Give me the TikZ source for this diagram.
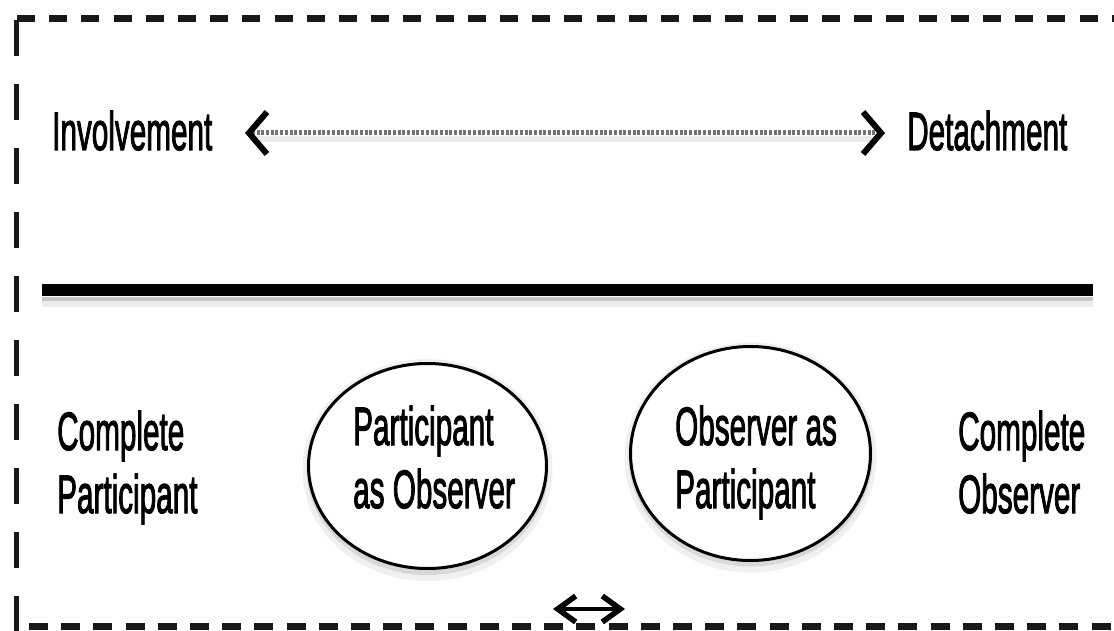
\documentclass[tikz,border=0pt]{standalone}
\usepackage{fontspec}
\setmainfont{Liberation Sans}
\newfontfamily\labfont{Liberation Sans}[FakeBold=2.4]
\usepackage{graphicx}
\usetikzlibrary{arrows.meta,shapes.geometric}
% condensed, left-aligned label text (first line sets the baseline)
\newcommand\narrowtext[1]{\scalebox{0.55}[1]{\begin{tabular}[t]{@{}l@{}}#1\end{tabular}}}
\begin{document}
\begin{tikzpicture}[x=1pt,y=-1pt,
  lab/.style={font=\labfont\fontsize{54}{63}\selectfont, inner sep=0pt, anchor=base west},
  ring/.style={ellipse, draw, line width=3pt, inner sep=0pt, fill=white},
  halo/.style={ellipse, inner sep=0pt, fill=black, fill opacity=#1},
  bigtip/.tip={Straight Barb[length=18pt,width=42pt,line width=6pt,color=black]},
  smalltip/.tip={Straight Barb[length=18pt,width=26pt,line width=5.5pt]},
  ]
\useasboundingbox (0,0) rectangle (1114,631);

% dashed frame (top, left, bottom)
\coordinate (ftl) at (17,19);
\coordinate (ftr) at (1114,19);
\coordinate (fl1) at (16.5,20);
\coordinate (fl2) at (16.5,631);
\coordinate (fbl) at (29,626);
\coordinate (fbr) at (1114,626);
\draw[line width=7pt, black!90, dash pattern=on 18pt off 14.2pt] (ftl) -- (ftr);
\draw[line width=5pt, black!90, dash pattern=on 36pt off 28pt] (fl1) -- (fl2);
\draw[line width=7pt, black!90, dash pattern=on 19pt off 13.2pt] (fbl) -- (fbr);

% top scale: involvement <-> detachment
\node[lab] (inv) at (52,150) {\narrowtext{Involvement}};
\node[lab] (det) at (907,150) {\narrowtext{Detachment}};
\coordinate (al) at (245,133);
\coordinate (ar) at (885,133);
\draw[gray!15, line width=6pt] ([shift={(8pt,-6pt)}]al) -- ([shift={(-8pt,-6pt)}]ar);
\draw[black!55, line width=5pt, dash pattern=on 3pt off 1.7pt, bigtip-bigtip] (al) -- (ar);

% dividing bar with its shadow
\coordinate (bl) at (42,290);
\coordinate (br) at (1093,290);
\draw[gray!45, line width=4pt] ([yshift=-9pt]bl) -- ([yshift=-9pt]br);
\draw[gray!15, line width=6pt] ([yshift=-14pt]bl) -- ([yshift=-14pt]br);
\draw[black, line width=12pt] (bl) -- (br);

% the four roles; soft shadow under each ring
\node[halo=0.06, minimum width=250pt, minimum height=222pt] (h1) at (427.5,470) {};
\node[halo=0.10, minimum width=242pt, minimum height=212pt] (g1) at (427.5,469) {};
\node[ring, minimum width=238pt, minimum height=205pt] (e1) at (427.5,466) {};
\node[halo=0.06, minimum width=252pt, minimum height=230pt] (h2) at (750.5,457.5) {};
\node[halo=0.10, minimum width=244pt, minimum height=220pt] (g2) at (750.5,456.5) {};
\node[ring, minimum width=240pt, minimum height=214pt] (e2) at (750.5,453.5) {};
\node[lab] (cp) at (57,450) {\narrowtext{Complete\\Participant}};
\node[lab] (pao) at (353,445) {\narrowtext{Participant\\as Observer}};
\node[lab] (oap) at (675,445) {\narrowtext{Observer as\\Participant}};
\node[lab] (co) at (958,450) {\narrowtext{Complete\\Observer}};

% small double arrow at the bottom
\coordinate (sl) at (553,609);
\coordinate (sr) at (625,609);
\draw[black, line width=4.5pt, smalltip-smalltip] (sl) -- (sr);
\end{tikzpicture}
\end{document}
